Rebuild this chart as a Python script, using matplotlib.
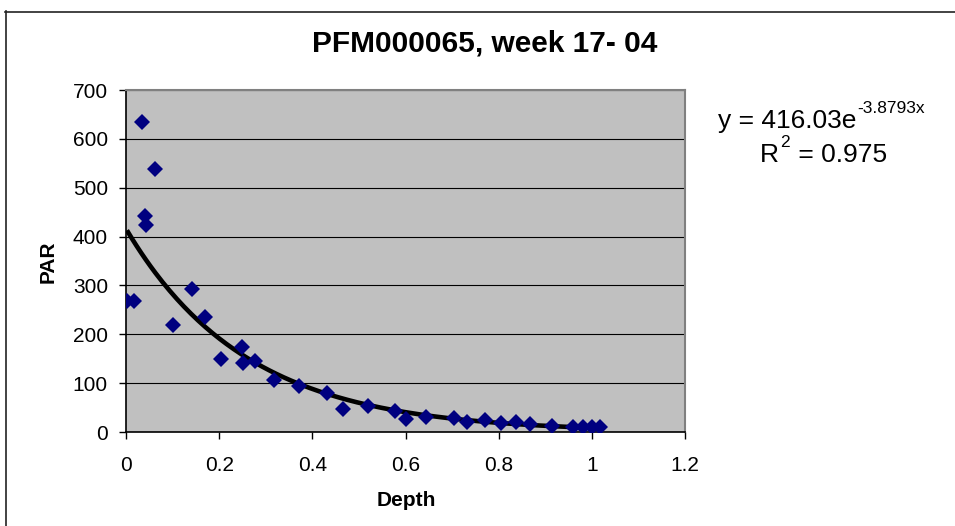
import numpy as np
import matplotlib
matplotlib.use("Agg")
import matplotlib.pyplot as plt
from matplotlib.lines import Line2D
from matplotlib.transforms import offset_copy

plt.rcParams['font.family'] = ['Liberation Sans', 'DejaVu Sans']

title = "PFM000065, week 17- 04"
x_label = "Depth"
y_label = "PAR"

depth = [0.002, 0.017, 0.034, 0.041, 0.043, 0.062, 0.101, 0.141, 0.170, 0.204,
         0.250, 0.251, 0.276, 0.318, 0.371, 0.432, 0.465, 0.519, 0.577, 0.600,
         0.645, 0.704, 0.732, 0.771, 0.805, 0.838, 0.867, 0.914, 0.960, 0.981,
         1.001, 1.017]
par = [269, 269, 635, 442, 423, 538, 219, 292, 236, 149,
       175, 141, 145, 106, 95, 80, 48, 53, 42, 26,
       30, 28, 21, 24, 18, 21, 16, 12, 11, 10,
       10, 10]

fit_a = 416.03
fit_b = -3.8793
fit_r2 = 0.975

x_ticks = [0, 0.2, 0.4, 0.6, 0.8, 1.0, 1.2]
x_tick_labels = ["0", "0.2", "0.4", "0.6", "0.8", "1", "1.2"]
y_ticks = [0, 100, 200, 300, 400, 500, 600, 700]

W, H = 955, 526
fig = plt.figure(figsize=(W/100, H/100), dpi=100)
ax = fig.add_axes([126/W, 1-432/H, (685-126)/W, (432-90)/H])
ax.set_facecolor('#C0C0C0')
ax.set_xlim(0, 1.2)
ax.set_ylim(0, 700)

ax.yaxis.grid(True, color='black', linewidth=0.8)
ax.set_axisbelow(True)

xf = np.linspace(min(depth), max(depth), 200)
ax.plot(xf, fit_a*np.exp(fit_b*xf), color='black', linewidth=3.3, zorder=2,
        solid_capstyle='butt')
ax.plot(depth, par, linestyle='none', marker='D', markersize=7.8,
        color='#000080', markeredgewidth=0, zorder=3)

ax.set_xticks(x_ticks)
ax.set_xticklabels(x_tick_labels)
ax.set_yticks(y_ticks)
ax.tick_params(axis='both', labelsize=15, length=5, width=1, color='black',
               direction='out')
ax.tick_params(axis='x', pad=12)
ax.tick_params(axis='y', pad=8)

for s in ['left', 'bottom']:
    ax.spines[s].set_color('black')
    ax.spines[s].set_linewidth(1.2)
for s in ['top', 'right']:
    ax.spines[s].set_color('#808080')
    ax.spines[s].set_linewidth(1.5)

fig.text(406/W, 1-506.5/H, x_label, fontsize=15, fontweight='bold',
         ha='center', va='baseline')
fig.text(48/W, 1-262/H, y_label, fontsize=15, fontweight='bold',
         ha='center', va='center', rotation=90)

fig.text(485/W, 1-51.5/H, title, fontsize=21.5, fontweight='bold',
         ha='center', va='baseline')

# trend line equation with superscripts
fig.canvas.draw()
renderer = fig.canvas.get_renderer()
t1 = fig.text(718/W, 1-128/H, f"y = {fit_a:.2f}e", fontsize=19,
              ha='left', va='baseline')
bb = t1.get_window_extent(renderer)
fig.text((bb.x1 + 1)/W, 1-113/H, f"-{abs(fit_b):.4f}x", fontsize=12.5,
         ha='left', va='baseline')

t2 = fig.text(760/W, 1-162/H, "R", fontsize=19, ha='left', va='baseline')
bb2 = t2.get_window_extent(renderer)
t3 = fig.text((bb2.x1 + 1)/W, 1-147/H, "2", fontsize=12.5, ha='left', va='baseline')
bb3 = t3.get_window_extent(renderer)
fig.text((bb3.x1 + 1)/W, 1-162/H, f" = {fit_r2}", fontsize=19,
         ha='left', va='baseline')

# outer chart border
fig.add_artist(Line2D([5.5/W, 5.5/W], [1-11/H, 0], transform=fig.transFigure,
                      color='#222222', linewidth=1.2))
fig.add_artist(Line2D([5/W, 1], [1-11.5/H, 1-11.5/H], transform=fig.transFigure,
                      color='#222222', linewidth=1.2))

fig.savefig('out.png', dpi=100)
